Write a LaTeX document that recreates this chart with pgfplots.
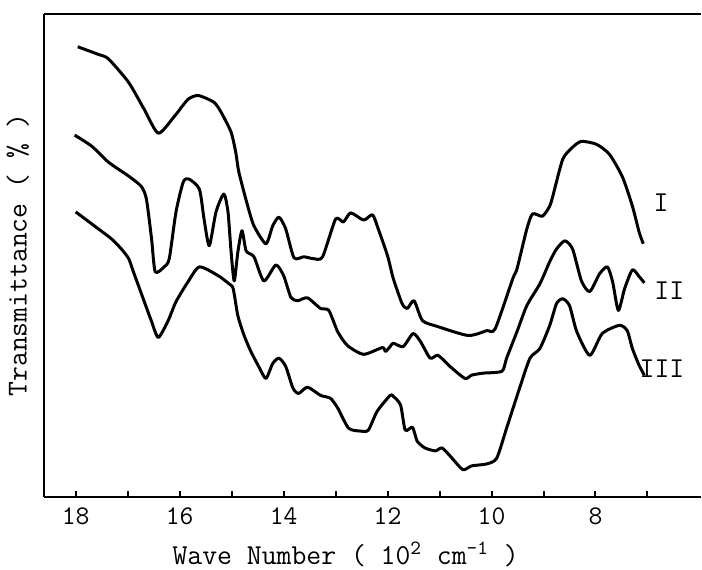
\documentclass[border=0pt]{standalone}
\usepackage{fontspec}
\usepackage{pgfplots}
\usepackage{pgfplotstable}
\pgfplotsset{compat=1.18}

% spectra (wave number in 10^2 cm^-1, transmittance in % of frame)
\pgfplotstableread{
wn T
17.96 93.2
17.56 91.6
17.37 90.7
16.98 85.8
16.68 80.2
16.41 75.3
16.10 78.8
15.84 82.3
15.64 83.1
15.34 81.7
15.20 79.6
15.01 75.5
14.92 71.3
14.86 67.2
14.69 60.2
14.57 56.1
14.34 52.4
14.21 56.1
14.09 57.9
13.96 55.5
13.80 49.5
13.61 49.7
13.42 49.3
13.25 49.7
13.00 57.5
12.85 56.9
12.71 58.8
12.46 57.3
12.29 58.4
12.18 55.5
12.00 49.9
11.89 45.2
11.72 40.0
11.62 39.0
11.49 40.6
11.33 36.5
11.05 35.3
10.45 33.4
10.09 34.4
9.93 34.8
9.59 45.2
9.51 47.2
9.32 55.5
9.21 58.6
9.02 58.1
8.88 60.2
8.82 62.3
8.63 69.9
8.44 72.4
8.27 73.6
7.98 73.0
7.73 70.9
7.48 66.2
7.29 60.2
7.16 54.8
7.08 52.4
}\curveI

\pgfplotstableread{
wn T
18.02 74.9
17.69 72.6
17.37 69.3
16.98 66.4
16.74 64.3
16.64 61.7
16.54 53.4
16.47 46.6
16.30 47.6
16.20 49.3
16.07 59.0
15.93 65.2
15.82 65.8
15.62 63.7
15.53 57.5
15.43 52.0
15.30 59.0
15.15 62.7
15.07 59.0
15.01 50.7
14.95 44.7
14.88 50.7
14.80 55.1
14.72 50.9
14.57 49.7
14.38 44.7
14.15 48.0
14.00 45.8
13.86 41.3
13.73 40.6
13.54 41.2
13.29 39.0
13.13 38.6
12.96 34.2
12.77 31.3
12.46 29.5
12.10 30.9
12.04 30.1
11.95 31.1
11.89 31.8
11.70 31.1
11.51 33.8
11.37 32.2
11.18 28.7
11.03 29.3
10.80 27.0
10.51 24.5
10.38 25.2
10.16 25.6
9.80 26.0
9.71 28.7
9.51 34.2
9.32 39.6
9.07 44.1
8.88 48.7
8.75 51.3
8.59 53.0
8.44 51.3
8.27 44.7
8.11 42.5
7.92 46.2
7.77 47.6
7.67 44.5
7.56 38.6
7.44 43.1
7.29 47.0
7.16 45.6
7.06 44.3
}\curveII

\pgfplotstableread{
wn T
18.00 59.0
17.64 56.1
17.31 53.4
17.12 51.3
16.98 49.3
16.89 46.6
16.70 41.0
16.54 36.3
16.41 33.0
16.22 36.5
16.07 40.4
15.84 44.5
15.62 47.6
15.26 45.8
15.05 44.1
14.97 43.1
14.88 37.5
14.76 33.4
14.63 30.1
14.48 27.0
14.34 24.5
14.21 27.6
14.09 28.7
13.96 27.0
13.82 22.5
13.71 21.4
13.54 22.7
13.29 21.0
13.10 20.4
12.96 18.4
12.75 14.2
12.52 13.6
12.37 13.8
12.20 17.7
11.95 21.0
11.89 20.8
11.75 19.0
11.66 13.8
11.52 14.4
11.43 11.5
11.28 10.1
11.08 9.5
10.95 10.1
10.76 8.0
10.55 5.6
10.38 6.4
10.09 6.8
9.90 8.0
9.71 14.2
9.46 22.5
9.26 28.7
9.07 30.7
8.88 35.5
8.75 40.0
8.63 41.0
8.50 39.6
8.36 34.2
8.11 29.3
7.87 33.8
7.54 35.5
7.39 34.4
7.29 30.7
7.16 27.2
7.06 25.2
}\curveIII

\begin{document}
\begin{tikzpicture}
\begin{axis}[
  width=330pt, height=242.5pt, scale only axis,
  x dir=reverse,
  xmin=5.97, xmax=18.61, ymin=0, ymax=100,
  axis x line=box, axis y line=left,
  axis line style={-, line width=1pt},
  xtick={8,10,...,18}, minor xtick={7,9,...,17},
  ytick=\empty,
  xtick pos=left,
  tick align=inside,
  major tick length=3pt, minor tick length=3pt,
  every tick/.style={black, line width=1pt},
  /pgf/number format/assume math mode=true,
  xticklabel style={font=\ttfamily\fontsize{13.5}{16}\selectfont, yshift=-2pt},
  xlabel={Wave Number ( 10\textsuperscript{2} cm\textsuperscript{-1} )},
  xlabel style={font=\ttfamily\fontsize{14.5}{17}\selectfont, xshift=-13.5pt,
    yshift=-4pt, inner ysep=1pt},
  ylabel={Transmittance ( \% )},
  ylabel style={font=\ttfamily\fontsize{14.5}{17}\selectfont,
    at={(axis description cs:-0.012,0.5)}, anchor=south},
]
\addplot[black, line width=1.5pt, no markers, smooth, tension=0.4, line join=round] table[x=wn, y=T] {\curveI};
\addplot[black, line width=1.5pt, no markers, smooth, tension=0.4, line join=round] table[x=wn, y=T] {\curveII};
\addplot[black, line width=1.5pt, no markers, smooth, tension=0.4, line join=round] table[x=wn, y=T] {\curveIII};
\node[font=\ttfamily\fontsize{14.5}{17}\selectfont] at (axis cs:6.74,61.0) {I};
\node[font=\ttfamily\fontsize{14.5}{17}\selectfont] at (axis cs:6.58,42.7) {II};
\node[font=\ttfamily\fontsize{14.5}{17}\selectfont] at (axis cs:6.72,26.6) {III};
\end{axis}
\path ([yshift=7pt]current axis.north west);
\end{tikzpicture}
\end{document}
